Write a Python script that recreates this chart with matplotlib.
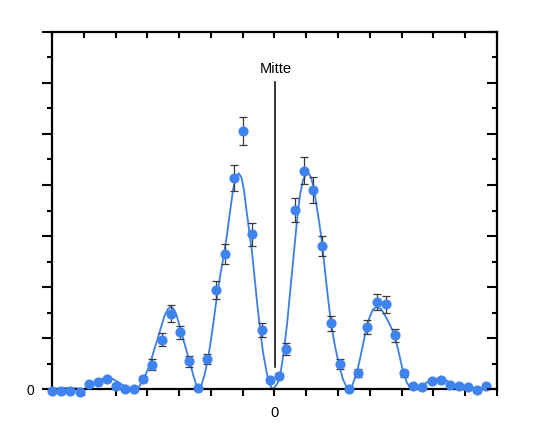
import matplotlib
matplotlib.use("Agg")
import matplotlib.pyplot as plt
from matplotlib.ticker import MultipleLocator

plt.rcParams['font.family'] = ['Liberation Sans', 'DejaVu Sans']

# measured points
x_pts = [-7.00, -6.71, -6.43, -6.13, -5.84, -5.56, -5.27, -4.98, -4.70, -4.41,
         -4.13, -3.85, -3.55, -3.27, -2.98, -2.70, -2.40, -2.12, -1.84, -1.56,
         -1.27, -0.98, -0.71, -0.40, -0.13, 0.13, 0.36, 0.64, 0.93, 1.22,
         1.49, 1.78, 2.07, 2.35, 2.64, 2.92, 3.22, 3.51, 3.78, 4.08,
         4.36, 4.65, 4.94, 5.23, 5.51, 5.80, 6.09, 6.37, 6.66]
y_pts = [-0.04, -0.03, -0.03, -0.06, 0.10, 0.14, 0.19, 0.05, 0.00, 0.01,
         0.20, 0.48, 0.97, 1.48, 1.11, 0.54, 0.02, 0.59, 1.94, 2.65,
         4.14, 5.06, 3.03, 1.16, 0.18, 0.26, 0.78, 3.51, 4.28, 3.90,
         2.80, 1.29, 0.49, 0.01, 0.32, 1.21, 1.71, 1.66, 1.05, 0.31,
         0.05, 0.04, 0.15, 0.17, 0.08, 0.06, 0.03, -0.02, 0.05]
y_err = [0.02, 0.02, 0.02, 0.02, 0.04, 0.04, 0.04, 0.03, 0.02, 0.02,
         0.06, 0.10, 0.12, 0.16, 0.13, 0.10, 0.02, 0.10, 0.18, 0.20,
         0.26, 0.28, 0.22, 0.14, 0.04, 0.05, 0.12, 0.24, 0.26, 0.25,
         0.20, 0.15, 0.09, 0.02, 0.08, 0.14, 0.16, 0.16, 0.12, 0.07,
         0.03, 0.03, 0.04, 0.04, 0.04, 0.04, 0.03, 0.03, 0.04]

# fitted curve
x_fit = [-7.00, -6.50, -6.00, -5.85, -5.70, -5.55, -5.40, -5.27, -5.10, -4.95,
         -4.80, -4.65, -4.50, -4.35, -4.25, -4.13, -4.00, -3.90, -3.80, -3.67,
         -3.55, -3.45, -3.35, -3.27, -3.18, -3.08, -2.93, -2.80, -2.67, -2.55,
         -2.45, -2.38, -2.30, -2.20, -2.10, -2.00, -1.90, -1.80, -1.70, -1.60,
         -1.50, -1.40, -1.30, -1.22, -1.13, -1.04, -0.96, -0.88, -0.80, -0.71,
         -0.62, -0.54, -0.45, -0.36, -0.26, -0.17, -0.08, 0.00, 0.10, 0.20,
         0.30, 0.40, 0.50, 0.60, 0.70, 0.80, 0.90, 1.00, 1.07, 1.15,
         1.23, 1.31, 1.40, 1.50, 1.60, 1.70, 1.78, 1.90, 2.04, 2.15,
         2.25, 2.35, 2.45, 2.59, 2.70, 2.80, 2.90, 3.00, 3.10, 3.22,
         3.35, 3.47, 3.60, 3.70, 3.77, 3.88, 3.97, 4.06, 4.17, 4.27,
         4.37, 4.50, 4.65, 4.80, 4.95, 5.10, 5.23, 5.40, 5.55, 5.70,
         5.85, 6.03, 6.35, 6.80]
y_fit = [0.00, 0.02, 0.00, 0.04, 0.10, 0.16, 0.20, 0.22, 0.20, 0.15,
         0.09, 0.04, 0.01, 0.00, 0.05, 0.18, 0.36, 0.52, 0.74, 1.00,
         1.25, 1.45, 1.57, 1.61, 1.58, 1.45, 1.11, 0.82, 0.54, 0.26,
         0.06, 0.00, 0.08, 0.28, 0.57, 0.95, 1.40, 1.87, 2.25, 2.60,
         3.00, 3.47, 3.92, 4.15, 4.23, 4.15, 3.90, 3.50, 3.12, 2.70,
         2.15, 1.65, 1.16, 0.72, 0.37, 0.12, 0.00, 0.03, 0.12, 0.35,
         0.76, 1.30, 1.95, 2.60, 3.25, 3.80, 4.10, 4.22, 4.23, 4.15,
         3.95, 3.65, 3.30, 2.85, 2.25, 1.70, 1.29, 0.85, 0.45, 0.20,
         0.06, 0.00, 0.07, 0.32, 0.62, 0.92, 1.21, 1.42, 1.56, 1.61,
         1.57, 1.45, 1.30, 1.17, 1.05, 0.80, 0.55, 0.31, 0.12, 0.03,
         0.00, 0.03, 0.08, 0.13, 0.17, 0.19, 0.19, 0.17, 0.12, 0.07,
         0.03, 0.00, 0.02, 0.00]

center_x = 0.03
center_line = (0.43, 6.02)
center_label = "Mitte"
x_ticklabels = {0: "0"}
y_ticklabels = {0: "0"}

point_color = "#3f84ee"
line_color = "#3b7ee6"

fig = plt.figure(figsize=(5.5, 4.37), dpi=100)
ax = fig.add_axes([0.0945, 0.1098, 0.8091, 0.8170])

ax.plot(x_fit, y_fit, color=line_color, lw=1.3, zorder=2)
ax.errorbar(x_pts, y_pts, yerr=y_err, fmt='o', color=point_color, ms=6.3,
            ecolor="#3a3a3a", elinewidth=0.9, capsize=3, capthick=0.9,
            zorder=3, clip_on=False)
for art in ax.get_children():
    try:
        art.set_clip_on(False)
    except Exception:
        pass

ax.plot([center_x, center_x], center_line, color="black", lw=1.1, zorder=1)
ax.text(center_x, center_line[1] + 0.12, center_label, ha="center", va="bottom",
        fontsize=10.5)

ax.set_xlim(-7, 7)
ax.set_ylim(0, 7)

for s in ax.spines.values():
    s.set_linewidth(1.6)

ax.xaxis.set_major_locator(MultipleLocator(1))
ax.yaxis.set_major_locator(MultipleLocator(1))
ax.yaxis.set_minor_locator(MultipleLocator(0.5))
ax.xaxis.set_major_formatter(plt.FuncFormatter(lambda v, p: x_ticklabels.get(int(round(v)), "") if abs(v - round(v)) < 1e-6 else ""))
ax.yaxis.set_major_formatter(plt.FuncFormatter(lambda v, p: y_ticklabels.get(int(round(v)), "") if abs(v - round(v)) < 1e-6 else ""))
ax.tick_params(axis="x", which="major", direction="out", length=5, width=1.5,
               pad=7, labelsize=10.5, top=False, bottom=True)
ax.tick_params(axis="y", which="major", direction="out", length=7.5, width=1.5,
               pad=5, labelsize=10, left=True, right=False)
ax.tick_params(axis="y", which="minor", direction="out", length=3.8, width=1.5,
               left=True, right=False)

axr = ax.twinx()
axr.set_ylim(0, 7)
axr.yaxis.set_major_locator(MultipleLocator(1))
axr.yaxis.set_minor_locator(MultipleLocator(0.5))
axr.tick_params(axis="y", which="major", direction="in", length=7.5, width=1.5,
                labelright=False)
axr.tick_params(axis="y", which="minor", direction="in", length=3.8, width=1.5)
for s in axr.spines.values():
    s.set_visible(False)

axt = ax.twiny()
axt.set_xlim(-7, 7)
axt.xaxis.set_major_locator(MultipleLocator(1))
axt.tick_params(axis="x", which="major", direction="in", length=4, width=1.5,
                labeltop=False)
for s in axt.spines.values():
    s.set_visible(False)

fig.savefig("out.png", dpi=100)
